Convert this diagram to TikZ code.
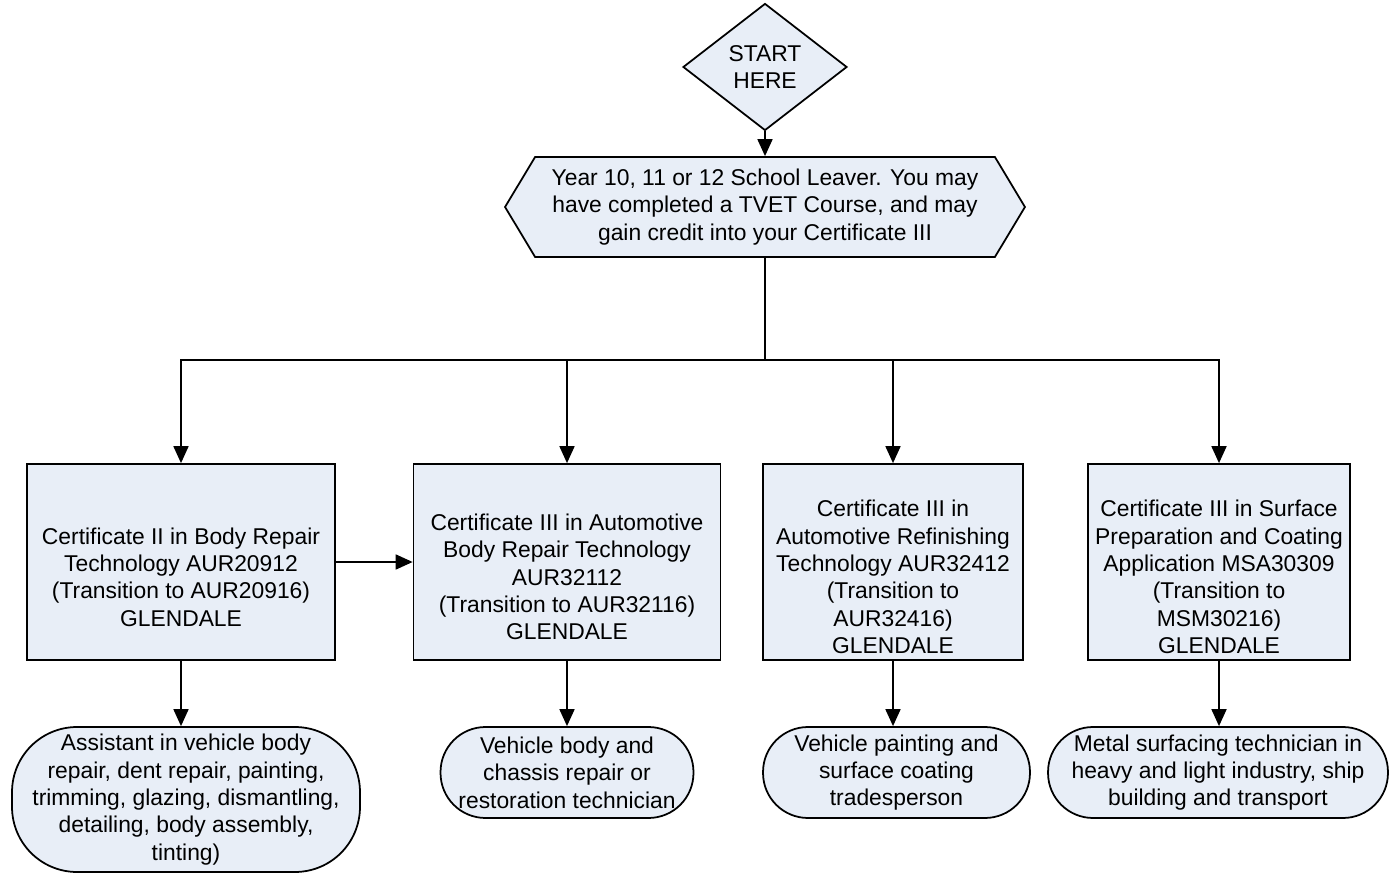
\documentclass[tikz,border=0pt]{standalone}
\usepackage{fontspec}
\setmainfont{Liberation Sans}
\usepackage{tikz}
\usetikzlibrary{shapes.geometric,shapes.symbols,arrows.meta,positioning,calc}

\definecolor{boxfill}{RGB}{232,238,247}

\begin{document}
\begin{tikzpicture}[
    x=0.02cm, y=-0.02cm,
    every node/.style={font=\fontsize{13}{15.6}\selectfont, align=center, line width=1pt},
    flowbox/.style={rectangle, draw, fill=boxfill, minimum height=3.92cm},
    boxtext/.style={inner sep=0pt},
    jobend/.style={rectangle, draw, fill=boxfill, rounded corners=0.9cm, minimum height=1.82cm, inner sep=1pt},
    arr/.style={-{Triangle[length=0.34cm, width=0.3cm]}, line width=1pt}
]
\useasboundingbox (0,0) rectangle (1389,874);

% Start
\node (start) at (765,67) [diamond, draw, fill=boxfill, aspect=1.3, inner sep=0pt,
  minimum width=3.28cm, minimum height=2.54cm] {START\\HERE};

% School leaver
\node (leaver) at (765,207) [signal, signal to=west and east, signal pointer angle=118,
  draw, fill=boxfill, minimum width=10.4cm, minimum height=2cm, inner sep=0pt] {
  Year 10, 11 or 12 School Leaver. You may\\
  have completed a TVET Course, and may\\
  gain credit into your Certificate III
};

% Certificates
\node (certA) at (181,562) [flowbox, minimum width=6.16cm] {};
\node (certAtext) at ($(certA.center)+(0,15)$) [boxtext] {
  Certificate II in Body Repair\\
  Technology AUR20912\\
  (Transition to AUR20916)\\
  GLENDALE
};
\node (certB) at (567,562) [flowbox, minimum width=6.14cm] {};
\node (certBtext) at ($(certB.center)+(0,15)$) [boxtext] {
  Certificate III in Automotive\\
  Body Repair Technology\\
  AUR32112\\
  (Transition to AUR32116)\\
  GLENDALE
};
\node (certC) at (893,562) [flowbox, minimum width=5.2cm] {};
\node (certCtext) at ($(certC.center)+(0,15)$) [boxtext] {
  Certificate III in\\
  Automotive Refinishing\\
  Technology AUR32412\\
  (Transition to\\
  AUR32416)\\
  GLENDALE
};
\node (certD) at (1219,562) [flowbox, minimum width=5.24cm] {};
\node (certDtext) at ($(certD.center)+(0,15)$) [boxtext] {
  Certificate III in Surface\\
  Preparation and Coating\\
  Application MSA30309\\
  (Transition to\\
  MSM30216)\\
  GLENDALE
};

% Job outcomes
\node (jobA) at (186,799.5) [jobend, rounded corners=1.3cm, minimum width=6.96cm, minimum height=2.9cm] {
  Assistant in vehicle body\\
  repair, dent repair, painting,\\
  trimming, glazing, dismantling,\\
  detailing, body assembly,\\
  tinting)
};
\node (jobB) at (567,772.5) [jobend, minimum width=5.06cm] {
  Vehicle body and\\
  chassis repair or\\
  restoration technician
};
\node (jobC) at (896.5,772.5) [jobend, minimum width=5.34cm] {
  Vehicle painting and\\
  surface coating\\
  tradesperson
};
\node (jobD) at (1218,772.5) [jobend, minimum width=6.8cm] {
  Metal surfacing technician in\\
  heavy and light industry, ship\\
  building and transport
};

% Connectors
\coordinate (bus) at (765,360);
\draw[arr] (start.south) -- (leaver.north);
\draw[line width=1pt] (leaver.south) -- (bus);
\foreach \c in {certA,certB,certC,certD}
  \draw[arr] (bus) -| (\c.north);
\draw[arr] (certA.east) -- (certB.west);
\draw[arr] (certA.south) -- (certA.south |- jobA.north);
\draw[arr] (certB.south) -- (certB.south |- jobB.north);
\draw[arr] (certC.south) -- (certC.south |- jobC.north);
\draw[arr] (certD.south) -- (certD.south |- jobD.north);

\end{tikzpicture}
\end{document}
